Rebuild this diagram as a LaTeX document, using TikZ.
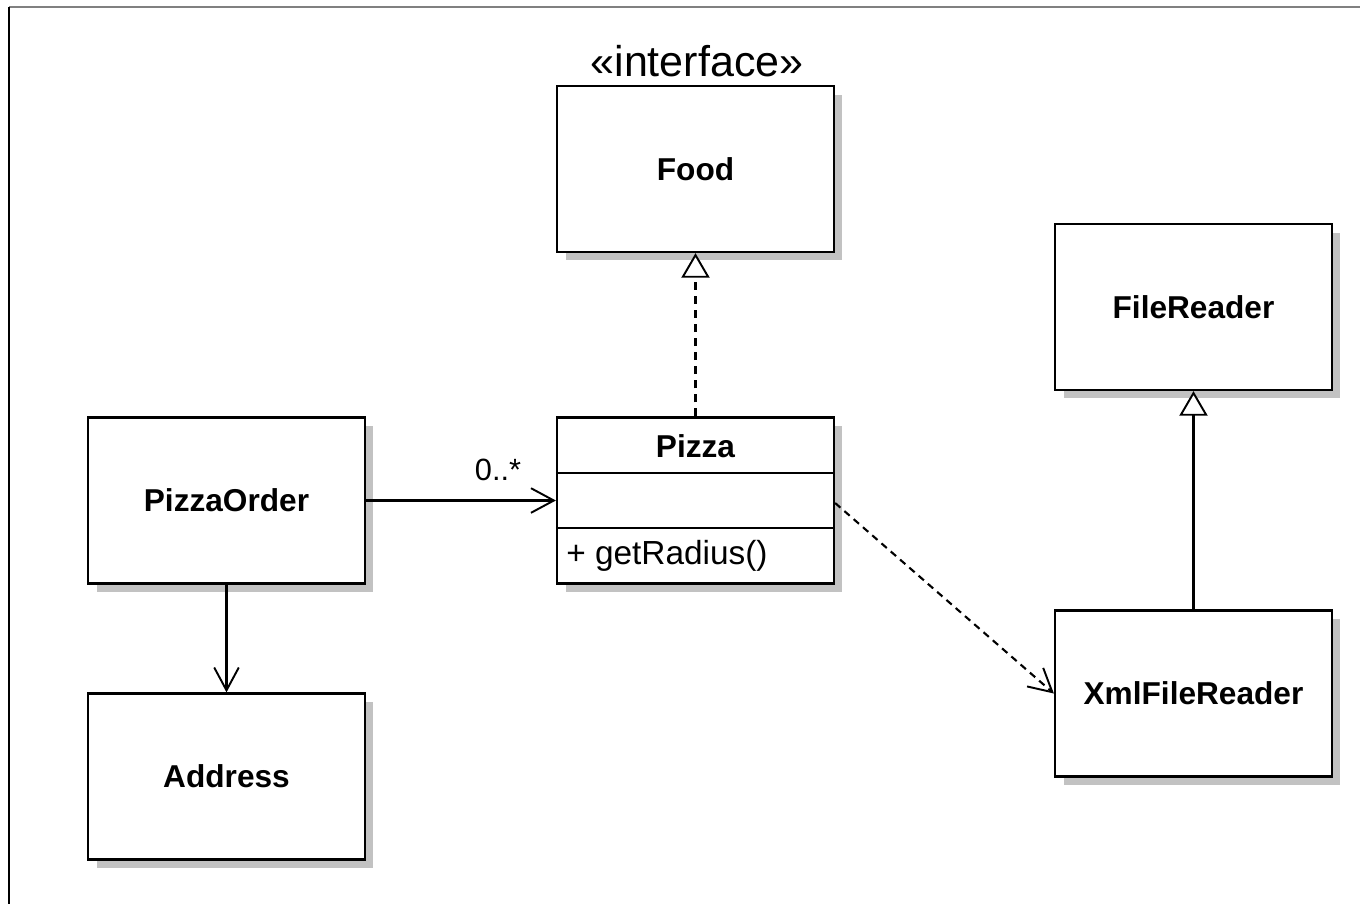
\documentclass[tikz,border=0pt]{standalone}
\usepackage{fontspec}
\setmainfont{Liberation Sans}
\usetikzlibrary{arrows.meta}
\definecolor{shadowc}{gray}{0.76}
\definecolor{framegray}{gray}{0.5}
\begin{document}
\begin{tikzpicture}[x=0.02cm,y=-0.02cm,
  cls/.style={draw=black, line width=1.3pt, fill=white,
    minimum width=5.54cm, minimum height=3.32cm, inner sep=0pt,
    font=\fontsize{18}{21}\selectfont\bfseries,
    preaction={fill=shadowc, transform canvas={xshift=0.17cm,yshift=-0.17cm}}},
  txt/.style={inner sep=0pt},
  conn/.style={line width=1.2pt},
  assoc/.style={conn, -{Straight Barb[length=13pt,width=14pt,line width=1.1pt]}},
  dep/.style={assoc, dash pattern=on 4pt off 3pt},
  real/.style={conn, dash pattern=on 4.5pt off 3.5pt, -{Triangle[open,length=14pt,width=16pt,fill=white,line width=1.1pt]}},
  gen/.style={conn, -{Triangle[open,length=14pt,width=16pt,fill=white,line width=1.1pt]}},
]
\useasboundingbox (0,0) rectangle (1360,904);
% frame
\draw[framegray, line width=1.6pt] (9,7) -- (1360,7);
\draw[black, line width=1pt] (9,7) -- (9,904);

% classes
\node[cls] (food) at (695.5,169) {Food};
\node[txt, font=\fontsize{24.5}{28}\selectfont] (stereo) at (697,61) {«interface»};
\node[cls] (filereader) at (1193.5,307) {FileReader};
\node[cls] (pizzaorder) at (226.5,500.5) {PizzaOrder};
\node[cls] (address) at (226.5,776.5) {Address};
\node[cls] (xmlreader) at (1193.5,693.5) {XmlFileReader};
\node[cls] (pizza) at (695.5,500.5) {};
\node[txt, font=\fontsize{18}{21}\selectfont\bfseries] (pizzaname) at (695.5,446) {Pizza};
\draw[line width=1.3pt] (pizza.west |- 0,473) coordinate (d1a) -- (pizza.east |- 0,473) coordinate (d1b);
\draw[line width=1.3pt] (pizza.west |- 0,528) coordinate (d2a) -- (pizza.east |- 0,528) coordinate (d2b);
\node[txt, anchor=west, font=\fontsize{19}{22}\selectfont] (getr) at (566,556) {+ getRadius()};

% connectors
\draw[assoc] (pizzaorder.east) -- (pizza.west |- pizzaorder.east);
\node[txt, font=\fontsize{17.5}{20}\selectfont] (mult) at (498,470) {0..*};
\draw[assoc] (pizzaorder.south) -- (address.north);
\draw[real] (pizza.north) -- (food.south);
\draw[dep] (pizza.east |- 0,503) -- (xmlreader.west);
\draw[gen] (xmlreader.north) -- (filereader.south);
\end{tikzpicture}
\end{document}
